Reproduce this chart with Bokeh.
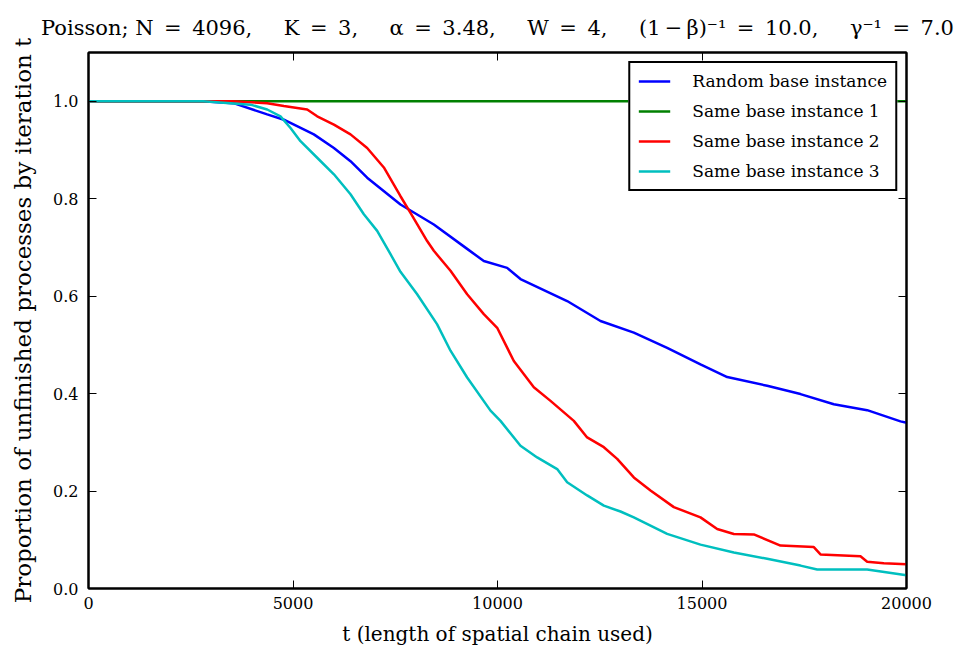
from bokeh.plotting import figure
from bokeh.models import LinearAxis, Range1d, Legend, LegendItem, FixedTicker, CustomJSTickFormatter
from bokeh.embed import file_html
from bokeh.resources import INLINE

# ---- data ----
t_blue = [0, 2800, 3545, 4369, 4776, 5510, 6000, 6406, 6813, 7628, 8443, 9258, 9665,
          10236, 10562, 11703, 12518, 13333, 14148, 14963, 15616, 16594, 17408, 18223,
          19038, 19853, 20000]
p_blue = [1.0, 1.0, 0.996, 0.973, 0.962, 0.932, 0.904, 0.877, 0.843, 0.788, 0.747, 0.697,
          0.672, 0.658, 0.635, 0.590, 0.549, 0.525, 0.494, 0.460, 0.434, 0.416, 0.399,
          0.378, 0.366, 0.343, 0.340]

t_green = [0, 20000]
p_green = [1.0, 1.0]

t_red = [0, 3500, 4369, 4776, 5347, 5591, 6000, 6406, 6813, 7221, 7628, 7873, 8280, 8443,
         8851, 9258, 9665, 9992, 10399, 10888, 11296, 11866, 12192, 12600, 12926, 13333,
         13741, 14311, 14963, 15371, 15778, 16267, 16919, 17734, 17897, 18875, 19038,
         19445, 20000]
p_red = [1.0, 1.0, 0.996, 0.990, 0.983, 0.969, 0.952, 0.932, 0.904, 0.864, 0.805, 0.771,
         0.713, 0.693, 0.652, 0.604, 0.563, 0.535, 0.467, 0.413, 0.385, 0.344, 0.310,
         0.290, 0.266, 0.228, 0.201, 0.167, 0.146, 0.122, 0.112, 0.111, 0.088, 0.085,
         0.070, 0.066, 0.055, 0.052, 0.050]

t_cyan = [0, 2800, 3961, 4369, 4694, 4939, 5183, 5591, 6000, 6406, 6732, 7058, 7384, 7628,
          8036, 8525, 8851, 9258, 9829, 10073, 10562, 10970, 11459, 11703, 12192, 12600,
          13007, 13333, 14148, 14963, 15778, 16594, 17408, 17816, 19038, 20000]
p_cyan = [1.0, 1.0, 0.993, 0.983, 0.969, 0.945, 0.918, 0.884, 0.850, 0.809, 0.768, 0.734,
          0.686, 0.650, 0.604, 0.542, 0.488, 0.433, 0.365, 0.344, 0.293, 0.269, 0.245,
          0.218, 0.191, 0.170, 0.158, 0.146, 0.112, 0.090, 0.074, 0.061, 0.047, 0.039,
          0.039, 0.027]

x_ticks = [0, 5000, 10000, 15000, 20000]
y_ticks = [0.0, 0.2, 0.4, 0.6, 0.8, 1.0]

series_names = ["Random base instance", "Same base instance 1",
                "Same base instance 2", "Same base instance 3"]
series_colors = ["#0000ff", "#008000", "#ff0000", "#00bfbf"]

EQ = "\u2002=\u2002"
SEP = ",\u2003\u2002"
title_text = ("Poisson; N" + EQ + "4096" + SEP + "K" + EQ + "3" + SEP + "α" + EQ + "3.48" + SEP +
              "W" + EQ + "4" + SEP + "(1\u2009−\u2009β)⁻¹" + EQ + "10.0" + SEP + "γ⁻¹" + EQ + "7.0")

FONT = "DejaVu Serif"

p = figure(width=962, height=657, output_backend="svg", toolbar_location=None,
           x_range=Range1d(0, 20000), y_range=Range1d(0, 1.1),
           min_border_left=88, min_border_right=56, min_border_top=51,
           min_border_bottom=69, title=title_text)

p.title.text_font = FONT
p.title.text_font_size = "21px"
p.title.text_font_style = "normal"
p.title.align = "center"
p.title.text_color = "black"
p.title.standoff = 26

p.xgrid.visible = False
p.ygrid.visible = False
p.outline_line_color = "black"
p.outline_line_width = 2
p.background_fill_color = "white"
p.border_fill_color = "white"

renderers = []
for tx, py, col in [(t_blue, p_blue, series_colors[0]), (t_green, p_green, series_colors[1]),
                    (t_red, p_red, series_colors[2]), (t_cyan, p_cyan, series_colors[3])]:
    r = p.line(tx, py, line_color=col, line_width=2.5)
    renderers.append(r)

def style_axis(ax, labels=True):
    ax.axis_line_color = "black"
    ax.axis_line_width = 2
    ax.major_tick_in = 8
    ax.major_tick_out = 0
    ax.minor_tick_line_color = None
    ax.major_tick_line_color = "black"
    ax.major_tick_line_width = 1
    if labels:
        ax.major_label_text_font = FONT
        ax.major_label_text_font_size = "16px"
        ax.major_label_text_color = "black"
    else:
        ax.major_label_text_font_size = "0px"
        ax.major_label_text_alpha = 0

xax = p.xaxis[0]
xax.ticker = FixedTicker(ticks=x_ticks)
style_axis(xax)
xax.major_label_standoff = 8
xax.axis_label = "t (length of spatial chain used)"
xax.axis_label_text_font = FONT
xax.axis_label_text_font_size = "20px"
xax.axis_label_text_font_style = "normal"
xax.axis_label_text_color = "black"
xax.axis_label_standoff = 10

yax = p.yaxis[0]
yax.ticker = FixedTicker(ticks=y_ticks)
style_axis(yax)
yax.major_label_standoff = 10
yax.formatter = CustomJSTickFormatter(code="return tick.toFixed(1);")
yax.axis_label = "Proportion of unfinished processes by iteration t"
yax.axis_label_text_font = FONT
yax.axis_label_text_font_size = "23px"
yax.axis_label_text_font_style = "normal"
yax.axis_label_text_color = "black"
yax.axis_label_standoff = 14

top_ax = LinearAxis(ticker=FixedTicker(ticks=x_ticks))
style_axis(top_ax, labels=False)
p.add_layout(top_ax, "above")
right_ax = LinearAxis(ticker=FixedTicker(ticks=y_ticks))
style_axis(right_ax, labels=False)
p.add_layout(right_ax, "right")

legend = Legend(items=[LegendItem(label=n, renderers=[r]) for n, r in zip(series_names, renderers)],
                location="top_right")
legend.label_text_font = FONT
legend.label_text_font_size = "17px"
legend.label_text_color = "black"
legend.border_line_color = "black"
legend.border_line_alpha = 1.0
legend.border_line_width = 2
legend.background_fill_color = "white"
legend.background_fill_alpha = 1
legend.glyph_width = 32
legend.glyph_height = 18
legend.label_height = 18
legend.label_standoff = 22
legend.spacing = 10
legend.padding = 8
legend.margin = 9
p.add_layout(legend)

open("out.html", "w").write(file_html(p, INLINE))
